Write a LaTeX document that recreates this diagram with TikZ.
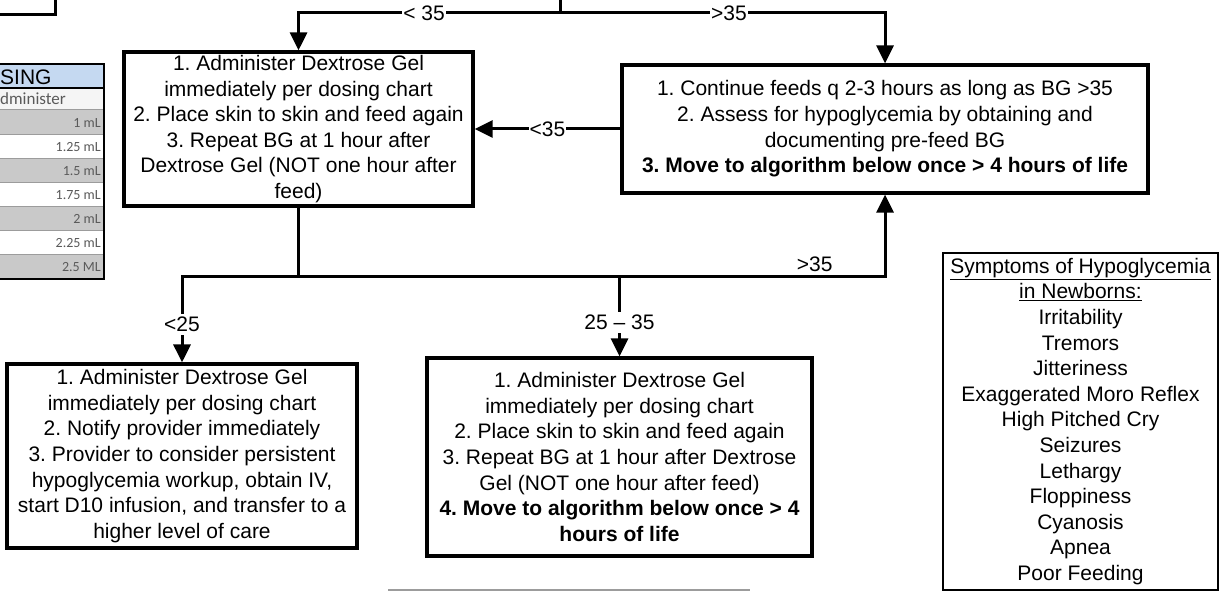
\documentclass[tikz,border=0pt]{standalone}
\usepackage{fontspec}
\setmainfont{Liberation Sans}
\newfontfamily\tblfont{Carlito}
\usetikzlibrary{arrows.meta,positioning}
\definecolor{hypoHead}{HTML}{C5D9F1}
\definecolor{hypoRow}{HTML}{C9C9C9}
\definecolor{hypoRule}{HTML}{9C9C9C}
\definecolor{hypoCell}{HTML}{5A5A5A}
\frenchspacing

\begin{document}
\begin{tikzpicture}[x=1pt,y=-1pt,>={Triangle[length=18pt,width=17pt]},line join=miter]
\path[use as bounding box,fill=white] (0,0) rectangle (1220,591);
\clip (0,0) rectangle (1220,591);
\tikzset{stepbox/.style={draw=black,line width=3.2pt,fill=white,align=center,inner sep=0pt,font=\fontsize{21}{25.6}\selectfont},wire/.style={draw=black,line width=3pt},lbl/.style={fill=white,inner xsep=1pt,inner ysep=3pt,font=\fontsize{21}{25}\selectfont}}
% box cut off at the top left
\draw[line width=3pt] (-10,-10) rectangle (55,15);
% dosing chart, cut off at the left edge
\fill[hypoHead] (-10,64) rectangle (104,88);
\node[anchor=west,inner sep=0pt,font=\fontsize{21}{21}\selectfont] (dosehead) at (0,77) {SING};
\fill[white!96!black] (-10,88) rectangle (104,110);
\node[anchor=west,inner sep=0pt,font=\tblfont\fontsize{17}{17}\selectfont,text=hypoCell] (doseadm) at (0,99) {dminister};
\foreach \v [count=\i from 0] in {1 mL,1.25 mL,1.5 mL,1.75 mL,2 mL,2.25 mL,2.5 ML}{
  \pgfmathsetmacro\yy{110+24.1*\i}
  \ifodd\i\def\rowc{white}\else\def\rowc{hypoRow}\fi
  \fill[\rowc] (-10,\yy) rectangle (104,\yy+24.1);
  \draw[hypoRule,line width=1pt] (-10,\yy) -- (104,\yy);
  \node[anchor=east,inner sep=0pt,font=\tblfont\fontsize{14}{14}\selectfont,text=hypoCell] (dose\i) at (101,\yy+12.5) {\v};
}
\draw[line width=1.2pt] (-10,88) -- (104,88);
\draw[line width=2.6pt] (-10,64) -- (104,64) -- (104,279) -- (-10,279);
% steps
\node[stepbox,minimum width=349pt,minimum height=154pt] (gelA) at (298.5,129) {1. Administer Dextrose Gel\\immediately per dosing chart\\2. Place skin to skin and feed again\\3. Repeat BG at 1 hour after\\Dextrose Gel (NOT one hour after\\feed)};
\node[stepbox,minimum width=526pt,minimum height=128pt] (feeds) at (885,129) {1. Continue feeds q 2-3 hours as long as BG >35\\2. Assess for hypoglycemia by obtaining and\\documenting pre-feed BG\\\textbf{3. Move to algorithm below once > 4 hours of life}};
\node[stepbox,minimum width=350pt,minimum height=184pt] (low) at (182,456) {1. Administer Dextrose Gel\\immediately per dosing chart\\2. Notify provider immediately\\3. Provider to consider persistent\\hypoglycemia workup, obtain IV,\\start D10 infusion, and transfer to a\\higher level of care};
\node[stepbox,minimum width=385pt,minimum height=198pt] (mid) at (619.5,457) {1. Administer Dextrose Gel\\immediately per dosing chart\\2. Place skin to skin and feed again\\3. Repeat BG at 1 hour after Dextrose\\Gel (NOT one hour after feed)\\\textbf{4. Move to algorithm below once > 4}\\\textbf{hours of life}};
\node[stepbox,line width=2.7pt,minimum width=275pt,minimum height=337pt] (symptoms) at (1080.5,421.5) {\underline{Symptoms of Hypoglycemia}\\\underline{in Newborns:}\\Irritability\\Tremors\\Jitteriness\\Exaggerated Moro Reflex\\High Pitched Cry\\Seizures\\Lethargy\\Floppiness\\Cyanosis\\Apnea\\Poor Feeding};
% connectors
\coordinate (src) at (560,-5);
\coordinate (split) at (560,13);
\coordinate (join) at (298.5,276);
\draw[wire] (src) -- (split);
\draw[wire,->] (split) -| node[lbl,pos=0.26] (ltA) {< 35} (gelA.north);
\draw[wire,->] (split) -| node[lbl,pos=0.26] (gtB) {>35} (feeds.north);
\draw[wire,->] (feeds.west) -- node[lbl] (ltBA) {<35} (gelA.east);
\draw[wire] (gelA.south) -- (join);
\draw[wire,->] (join) -| node[lbl,pos=0.78] (lt25) {<25} (low.north);
\draw[wire,->] (join) -| node[lbl,pos=0.787] (mid25) {25 -- 35} (mid.north);
\draw[wire,->] (join) -| node[above,inner sep=3pt,pos=0.44,font=\fontsize{21}{25}\selectfont] (gtB2) {>35} (feeds.south);
\draw[hypoRule,line width=1.5pt] (388,590) -- (750,590);
\end{tikzpicture}
\end{document}
